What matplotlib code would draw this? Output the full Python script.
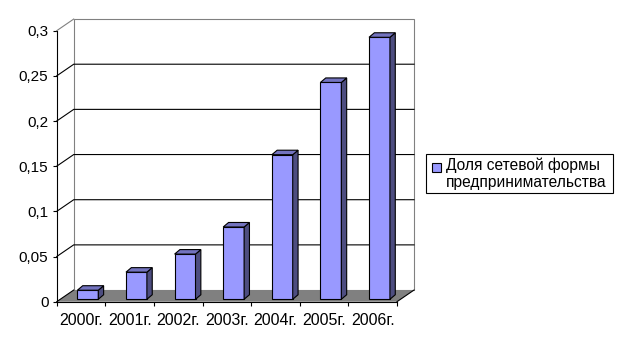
import matplotlib
matplotlib.use('Agg')
import matplotlib.pyplot as plt
from matplotlib.patches import Polygon, Rectangle

years = ['2000г.', '2001г.', '2002г.', '2003г.', '2004г.', '2005г.', '2006г.']
share = [0.01, 0.03, 0.05, 0.08, 0.16, 0.24, 0.29]
y_ticks = [0, 0.05, 0.1, 0.15, 0.2, 0.25, 0.3]
y_tick_labels = ['0', '0,05', '0,1', '0,15', '0,2', '0,25', '0,3']
series_label = 'Доля сетевой формы\nпредпринимательства'

plt.rcParams['font.family'] = ['Liberation Sans', 'DejaVu Sans']

fig = plt.figure(figsize=(6.24, 3.52), dpi=100)
ax = fig.add_axes([0.0909, 0.1429, 0.5453, 0.7699])
n = len(years)
ymax = y_ticks[-1]
ax.set_xlim(0, n)
ax.set_ylim(0, ymax)

# depth of the fake 3d box (data units)
dx, dy = 0.35, 0.0129
# bars stand a bit behind the front plane
bx, by = 0.14, 0.0027
bdx, bdy = 0.11, 0.0050
bw = 0.43
lw = 0.8


def poly(pts, **kw):
    ax.add_patch(Polygon(pts, closed=True, clip_on=False, **kw))


# back wall and gridlines
poly([(dx, dy), (n + dx, dy), (n + dx, ymax + dy), (dx, ymax + dy)],
     facecolor='white', edgecolor='#808080', lw=lw, zorder=1)
for t in y_ticks[1:-1]:
    ax.plot([0, dx, n + dx], [t, t + dy, t + dy], color='black', lw=lw,
            clip_on=False, zorder=2)
ax.plot([0, dx], [ymax, ymax + dy], color='#808080', lw=lw, clip_on=False, zorder=2)

# floor
poly([(0, 0), (n, 0), (n + dx, dy), (dx, dy)], facecolor='#808080',
     edgecolor='none', zorder=3)
ax.plot([0, dx], [0, dy], color='black', lw=lw, clip_on=False, zorder=3)
ax.plot([n, n + dx], [0, dy], color='black', lw=lw, clip_on=False, zorder=3)

# bars: front face via ax.bar, side and top as polygons
xs = [i + 0.5 + bx for i in range(n)]
ax.bar(xs, share, width=bw, bottom=by, color='#9999ff', edgecolor='black',
       lw=lw, zorder=4, clip_on=False)
for x, v in zip(xs, share):
    x0, x1 = x - bw / 2, x + bw / 2
    y0, y1 = by, by + v
    poly([(x1, y0), (x1 + bdx, y0 + bdy), (x1 + bdx, y1 + bdy), (x1, y1)],
         facecolor='#4d4d80', edgecolor='black', lw=lw, zorder=4)
    poly([(x0, y1), (x1, y1), (x1 + bdx, y1 + bdy), (x0 + bdx, y1 + bdy)],
         facecolor='#7373bf', edgecolor='black', lw=lw, zorder=4)

# axes
for s in ('top', 'right'):
    ax.spines[s].set_visible(False)
for s in ('left', 'bottom'):
    ax.spines[s].set_color('black')
    ax.spines[s].set_linewidth(lw)
    ax.spines[s].set_zorder(10)
ax.set_yticks(y_ticks)
ax.set_yticklabels(y_tick_labels)
ax.set_xticks(range(n + 1))
ax.set_xticklabels([])
ax.set_xticks([i + 0.5 for i in range(n)], minor=True)
ax.set_xticklabels(years, minor=True)
ax.tick_params(axis='y', direction='out', length=3, width=lw, pad=3, labelsize=11)
ax.tick_params(axis='x', which='major', direction='out', length=3, width=lw)
ax.tick_params(axis='x', which='minor', length=0, pad=8, labelsize=11.5)
ax.patch.set_visible(False)

# legend
fig.patches.append(Rectangle((426 / 624, 1 - 193 / 352), 187 / 624, 39 / 352,
                             transform=fig.transFigure, facecolor='white',
                             edgecolor='black', lw=lw))
fig.patches.append(Rectangle((432 / 624, 1 - 172 / 352), 9 / 624, 9 / 352,
                             transform=fig.transFigure, facecolor='#9999ff',
                             edgecolor='black', lw=lw))
fig.text(446 / 624, 1 - 174 / 352, series_label, fontsize=11.2,
         va='center', ha='left', linespacing=1.2)

fig.savefig('out.png', dpi=100)
